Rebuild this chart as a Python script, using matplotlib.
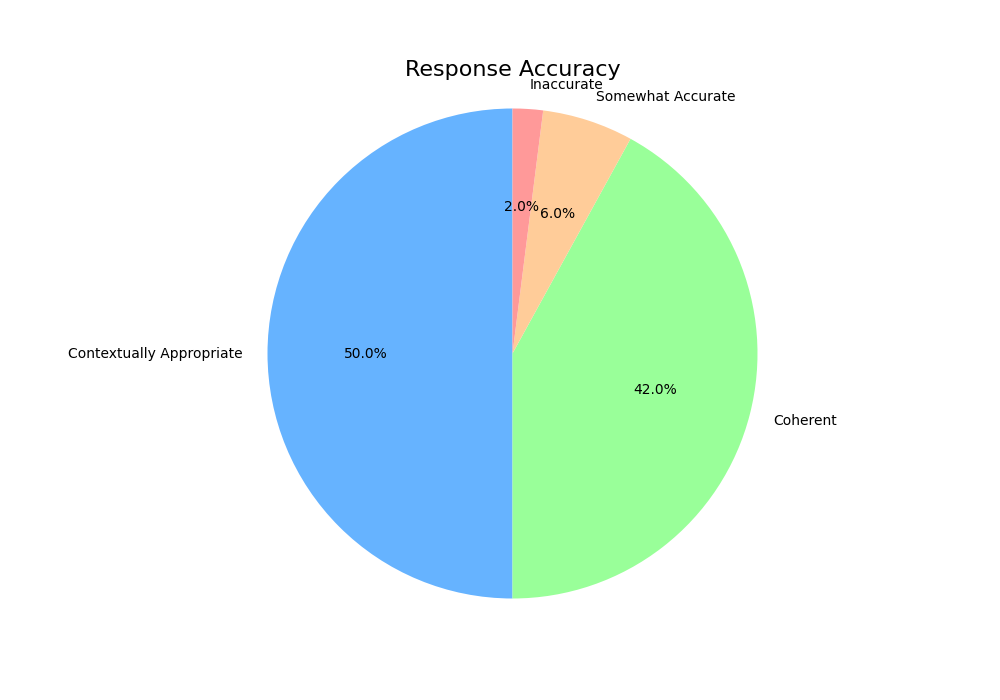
import matplotlib
matplotlib.use("Agg")
import matplotlib.pyplot as plt

labels = ['Contextually Appropriate', 'Coherent', 'Somewhat Accurate', 'Inaccurate']
sizes = [50, 42, 6, 2]
colors = ['#66b3ff', '#99ff99', '#ffcc99', '#ff9999']

fig, ax = plt.subplots(figsize=(10, 7), dpi=100)
ax.pie(sizes, labels=labels, colors=colors, autopct='%1.1f%%', startangle=90)
ax.axis('equal')
ax.set_title('Response Accuracy', fontsize=16)

fig.savefig('out.png')
